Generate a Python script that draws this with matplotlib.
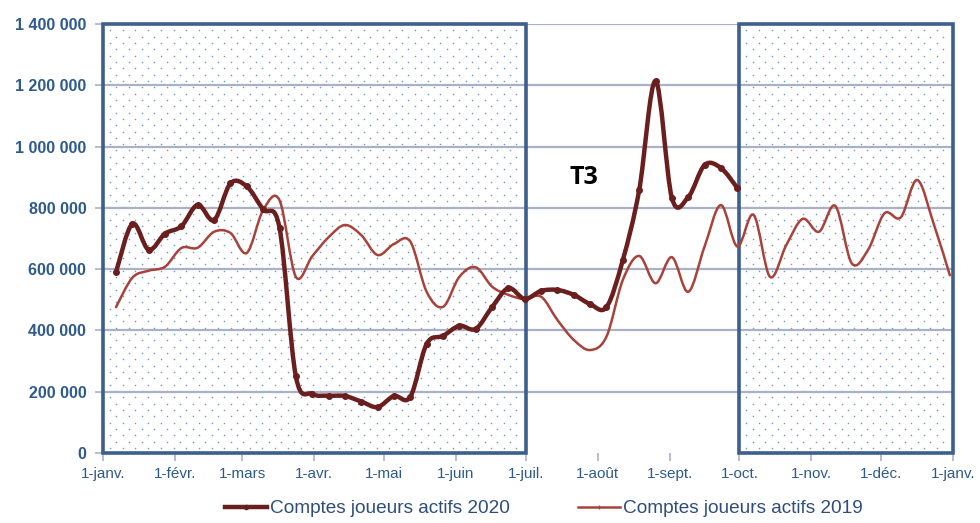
import numpy as np
import matplotlib.pyplot as plt
from matplotlib.path import Path
from matplotlib.patches import PathPatch, Rectangle
from matplotlib.lines import Line2D
from matplotlib.ticker import FuncFormatter

plt.rcParams['font.family'] = ['Liberation Sans', 'DejaVu Sans']

# weekly values (thousands), first point ~ Jan 6, step 7 days
start_day = 5.6
step = 7.04

comptes_2020 = [590, 748, 663, 716, 740, 810, 760, 880, 870, 795,
                735, 250, 193, 187, 186, 168, 150, 186, 183, 356,
                382, 415, 405, 476, 538, 503, 529, 532, 516, 486,
                476, 630, 858, 1214, 832, 835, 940, 930, 865]

comptes_2019 = [476, 572, 595, 608, 669, 670, 722, 718, 653, 793,
                825, 575, 642, 704, 744, 711, 646, 682, 690, 526,
                477, 575, 606, 543, 516, 502, 510, 434, 369, 336,
                380, 565, 643, 554, 639, 526, 674, 809, 674, 777,
                575, 679, 764, 722, 806, 619, 663, 782, 769, 891,
                750, 580]

month_days = [0, 31, 60, 91, 121, 152, 182, 213, 244, 274, 305, 335, 366]
month_labels = ['1-janv.', '1-févr.', '1-mars', '1-avr.', '1-mai', '1-juin',
                '1-juil.', '1-août', '1-sept.', '1-oct.', '1-nov.', '1-déc.',
                '1-janv.']

# shaded quarters (T1-T2 and T4)
shaded = [(0, 182), (274, 366)]

blue = '#3d5f8e'
grid_col = '#a9b1c6'
label_col = '#2f5b8c'
dot_col = '#6e98d8'
c2020 = '#6b1e1e'
c2019 = '#a8423a'


def smooth_path(x, y):
    # Excel-like smoothed line: cubic Bezier through every point
    pts = np.column_stack([x, y]).astype(float)
    n = len(pts)
    verts = [pts[0]]
    codes = [Path.MOVETO]
    for i in range(n - 1):
        p0 = pts[i - 1] if i > 0 else pts[i]
        p1 = pts[i]
        p2 = pts[i + 1]
        p3 = pts[i + 2] if i + 2 < n else pts[i + 1]
        c1 = p1 + (p2 - p0) / 6.0
        c2 = p2 - (p3 - p1) / 6.0
        verts += [c1, c2, p2]
        codes += [Path.CURVE4] * 3
    return Path(verts, codes)


fig = plt.figure(figsize=(9.8, 5.23), dpi=100)
ax = fig.add_axes([103 / 980, 1 - 453 / 523, 850 / 980, 429 / 523])
ax.set_xlim(0, 366)
ax.set_ylim(0, 1400000)

# dotted fill pattern of the shaded quarters
px_x = 366 / 850.0
px_y = 1400000 / 429.0
for x0, x1 in shaded:
    rows = np.arange(5 * px_y, 1400000 - 3 * px_y, 6.33 * px_y)
    for k, yy in enumerate(rows):
        off = 0 if k % 2 == 0 else 6.35 * px_x
        xs = np.arange(x0 + 7 * px_x + off, x1 - 4 * px_x, 12.7 * px_x)
        ax.scatter(xs, np.full(len(xs), yy), s=1.3, color=dot_col,
                   linewidths=0, zorder=0)

for v in range(200000, 1400001, 200000):
    ax.axhline(v, color=grid_col, lw=1.6, zorder=1)

for x0, x1 in shaded:
    ax.add_patch(Rectangle((x0, 0), x1 - x0, 1400000, facecolor='none',
                           edgecolor=blue, lw=2.6, zorder=2, clip_on=False))

x2019 = start_day + step * np.arange(len(comptes_2019))
y2019 = np.array(comptes_2019) * 1000
ax.add_patch(PathPatch(smooth_path(x2019, y2019), fill=False, edgecolor=c2019,
                       lw=1.8, zorder=3, capstyle='round'))

x2020 = start_day + step * np.arange(len(comptes_2020))
y2020 = np.array(comptes_2020) * 1000
ax.add_patch(PathPatch(smooth_path(x2020, y2020), fill=False, edgecolor=c2020,
                       lw=3.2, zorder=4, capstyle='round', joinstyle='round'))
ax.plot(x2020, y2020, ls='none', marker='o', ms=4, color=c2020, zorder=5)

ax.text(207, 900000, 'T3', fontsize=18, fontweight='bold', color='black',
        family=['Open Sans', 'DejaVu Sans'], ha='center', va='center')

ax.set_xticks(month_days)
ax.set_xticklabels(month_labels)
ax.set_yticks(range(0, 1400001, 200000))
ax.yaxis.set_major_formatter(FuncFormatter(lambda v, p: f'{int(v):,}'.replace(',', ' ')))

for s in ax.spines.values():
    s.set_visible(False)
ax.tick_params(axis='both', colors=grid_col, length=6, width=1.2, direction='out')
ax.tick_params(axis='y', labelcolor=label_col, labelsize=11.5, pad=6)
ax.tick_params(axis='x', labelcolor=label_col, labelsize=11, pad=4)
for t in ax.get_yticklabels():
    t.set_fontweight('bold')

handles = [Line2D([], [], color=c2020, lw=3.2, marker='o', ms=3),
           Line2D([], [], color=c2019, lw=1.8, marker='|', ms=3)]
leg = fig.legend(handles, ['Comptes joueurs actifs 2020', 'Comptes joueurs actifs 2019'],
                 loc='lower center', bbox_to_anchor=(0.555, -0.022), ncol=2,
                 frameon=False, fontsize=13.7, handlelength=2.2, handletextpad=0.15,
                 columnspacing=3.6)
for t in leg.get_texts():
    t.set_color('#2e4d7e')

fig.savefig('out.png', dpi=100)
